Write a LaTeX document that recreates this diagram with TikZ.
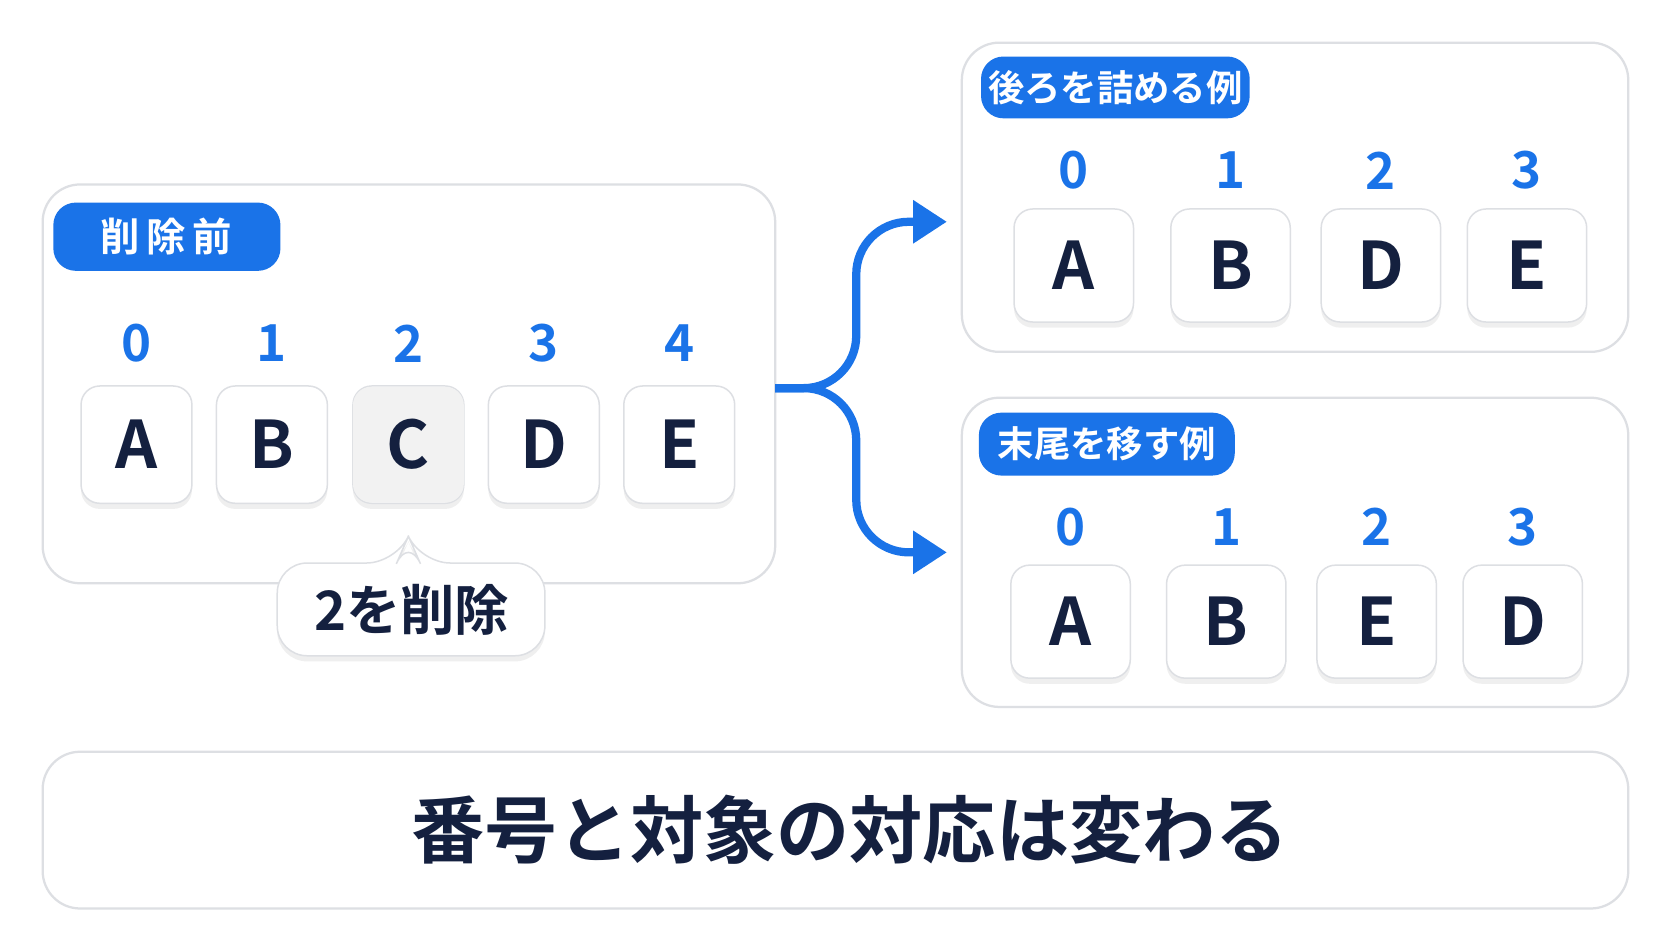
\documentclass[tikz,border=0pt]{standalone}
\usepackage{fontspec}
\setmainfont{Noto Sans CJK JP}[BoldFont={Noto Sans CJK JP Bold}]
\usetikzlibrary{arrows.meta,shadows}
\definecolor{tagblue}{HTML}{1A73E8}
\definecolor{ink}{HTML}{14203F}
\definecolor{edge}{HTML}{DDDFE3}
\tikzset{
	panel/.style={draw=edge, fill=white, rounded corners=10pt, line width=0.6pt},
	cell/.style={draw=edge, fill=white, rounded corners=5pt, drop shadow={opacity=0.12, shadow xshift=0pt, shadow yshift=-1.5pt}},
	tag/.style={fill=tagblue, rounded corners=6pt},
	idx/.style={text=tagblue, font=\bfseries\fontsize{13.6}{15}\selectfont},
	letter/.style={text=ink, font=\bfseries\fontsize{17.5}{20}\selectfont},
}
\begin{document}
\begin{tikzpicture}[x=0.01cm, y=-0.01cm]
	\useasboundingbox[fill=white] (0,0) rectangle (1568,883);
	%before panel
	\draw[panel] (40,173) rectangle (727,547);
	\fill[tag] (50,190) rectangle (263,254);
	\node (tagA) at (156,222) [text=white, font=\bfseries\fontsize{10.5}{12}\selectfont]{削\,除\,前};
	\foreach \i/\x/\l in {0/128/A, 1/255/B, 2/383/C, 3/510/D, 4/637/E}{
		\node (iA\i) at (\x, 322) [idx]{\i};
		\draw[cell] (\x-52, 362) rectangle (\x+52, 472);
		\node (cA\i) at (\x, 417) [letter]{\l};
	}
	\fill[black!5, rounded corners=5pt] (331,362.6) rectangle (435,471.4);
	\node at (383, 417) [letter]{C};
	%callout
	\draw[draw=edge, fill=white, rounded corners=8pt, drop shadow={opacity=0.12, shadow xshift=0pt, shadow yshift=-1.5pt}]
		(260,528) -- (372,528) -- (383,503) -- (394,528) -- (511,528)
		[rounded corners=8pt] -- (511,615) -- (260,615) -- cycle;
	\node (del) at (386,572) [text=ink, font=\bfseries\fontsize{14.5}{16}\selectfont]{2を削除};
	%branch
	\coordinate (out) at (727,364);
	\coordinate (up) at (888,208);
	\coordinate (dn) at (888,518);
	\draw[tagblue, line width=2.2pt, rounded corners=14pt, -{Triangle[length=9pt,width=11pt]}] (out) -- (803,364) -- (803,208) -- (up);
	\draw[tagblue, line width=2.2pt, rounded corners=14pt, -{Triangle[length=9pt,width=11pt]}] (out) -- (803,364) -- (803,518) -- (dn);
	%shift panel
	\draw[panel] (902,40) rectangle (1527,330);
	\fill[tag] (920,53) rectangle (1172,111);
	\node (tagB) at (1046,82) [text=white, font=\bfseries\fontsize{9.7}{11}\selectfont]{後ろを詰める例};
	\foreach \i/\x/\l in {0/1007/A, 1/1154/B, 2/1295/D, 3/1432/E}{
		\node (iB\i) at (\x, 160) [idx]{\i};
		\draw[cell] (\x-56, 196) rectangle (\x+56, 302);
		\node (cB\i) at (\x, 249) [letter]{\l};
	}
	%swap panel
	\draw[panel] (902,373) rectangle (1527,663);
	\fill[tag] (918,387) rectangle (1158,446);
	\node (tagC) at (1038,416) [text=white, font=\bfseries\fontsize{9.7}{11}\selectfont]{末尾を移す例};
	\foreach \i/\x/\l in {0/1004/A, 1/1150/B, 2/1291/E, 3/1428/D}{
		\node (iC\i) at (\x, 494) [idx]{\i};
		\draw[cell] (\x-56, 530) rectangle (\x+56, 636);
		\node (cC\i) at (\x, 583) [letter]{\l};
	}
	%banner
	\draw[panel] (40,705) rectangle (1527,852);
	\node (msg) at (797,778) [text=ink, font=\bfseries\fontsize{19.5}{22}\selectfont]{番号と対象の対応は変わる};
\end{tikzpicture}
\end{document}
